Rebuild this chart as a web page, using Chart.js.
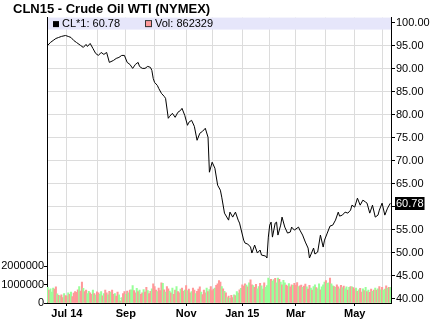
<!DOCTYPE html>
<html><head><meta charset="utf-8">
<script src="https://cdn.jsdelivr.net/npm/chart.js@4.4.1/dist/chart.umd.min.js"></script>
<style>html,body{margin:0;padding:0;background:#fff;}canvas{display:block;}</style>
</head><body>
<canvas id="c" width="434" height="327"></canvas>
<script>
// ---- data ----
const chartTitle = 'CLN15 - Crude Oil WTI (NYMEX)';
const seriesName = 'CL*1';
const lastPrice = 60.78;
const lastVolume = 862329;
const firstDay = '2014-06-11';
const lastDay = '2015-06-09';
const holidays = ['2014-07-04','2014-09-01','2014-11-27','2014-12-25','2015-01-01','2015-01-19','2015-02-16','2015-04-03','2015-05-25'];
const monthKeys = ['2014-07','2014-08','2014-09','2014-10','2014-11','2014-12','2015-01','2015-02','2015-03','2015-04','2015-05','2015-06'];
const monthTickLabels = ['Jul 14','','Sep','','Nov','','Jan 15','','Mar','','May',''];
const priceTicks = [40,45,50,55,60,65,70,75,80,85,90,95,100];
const volTicks = [0,1000,2000];
const volTickLabels = ['0','1000000','2000000'];

// trading-day index of each price reading, and the close
const priceIdx = [0,2,4,6,8,10,13,15,17,19,21,24,26,28,29,31,33,35,37,39,41,43,45,48,50,52,54,56,58,60,62,64,66,67,69,71,73,75,76,77,78,80,81,83,85,86,88,89,91,93,95,97,98,100,102,103,105,107,109,111,113,115,117,118,120,122,124,126,127,129,132,133,135,137,139,140,143,144,146,148,149,151,153,155,156,159,160,161,162,163,164,166,167,168,170,171,173,175,177,178,180,183,184,186,188,190,191,194,195,197,199,201,202,204,206,208,210,212,213,215,217,219,221,222,224,226,228,230,232,233,235,237,239,241,242,244,246,248,250];
const priceVals = [95.02,95.67,96.10,96.53,96.75,96.97,97.18,96.97,96.75,96.10,95.67,95.02,94.59,95.24,94.80,95.45,94.37,93.29,92.85,93.50,93.07,93.50,91.34,91.77,92.20,92.42,92.85,92.85,91.34,90.90,90.04,90.90,91.34,90.47,90.04,90.04,90.47,90.25,89.60,87.87,87.00,86.35,85.71,84.62,83.97,83.54,79.21,79.64,80.29,79.42,80.51,80.94,81.37,79.86,77.69,78.34,78.77,77.47,74.44,75.96,76.39,77.04,75.09,67.51,69.68,68.38,64.70,63.61,62.10,58.63,57.11,58.85,57.77,58.85,57.11,56.47,52.78,52.13,51.92,51.27,49.97,51.70,49.97,50.62,49.53,49.32,48.89,53.43,56.03,56.68,53.43,56.47,56.68,53.87,56.03,57.77,55.60,54.30,54.52,55.60,54.95,55.60,54.95,53.87,52.35,51.05,48.89,51.05,49.75,50.19,53.87,51.27,52.78,54.30,55.82,56.03,57.11,58.85,57.98,58.20,58.85,58.63,59.28,60.36,59.93,61.88,60.36,61.45,61.02,60.80,58.63,60.36,57.77,58.20,59.28,60.80,58.20,59.72,60.78];

// daily volume, thousands of contracts
const volK = [
850,700,780,600,820,760,880,500,
420,380,450,300,520,410,380,560,470,600,350,540,620,
580,720,900,650,1150,800,620,700,520,640,
560,480,700,520,430,610,550,480,620,390,520,700,560,450,640,
580,700,480,520,380,600,450,120,300,520,620,480,650,560,700,
720,950,680,560,800,620,700,480,560,740,600,850,680,520,640,780,1050,900,700,620,
820,680,1100,1080,720,600,900,780,650,560,820,480,700,900,620,560,760,820,640,700,
950,680,760,560,620,820,700,520,640,760,880,600,460,700,560,820,620,740,900,680,
760,820,960,1050,1220,1150,900,780,640,560,300,380,250,420,300,450,400,620,540,720,800,
1000,920,1050,980,880,1100,1270,1000,950,860,1020,780,900,1080,940,760,1100,860,950,
1360,1250,1300,1200,1280,1350,1100,1360,1300,1150,1000,1240,1100,980,920,1060,880,1000,960,1080,
960,1120,900,940,980,860,920,1040,880,760,960,820,700,900,1000,840,780,1050,720,880,
1000,1150,1220,1080,1100,1360,1050,940,900,860,1000,880,780,960,840,920,780,880,700,860,
900,880,840,760,820,640,720,800,600,780,680,860,620,700,580,760,640,700,820,700,
780,900,720,860,700,760,940,820,860,862];
// day direction: g = up, r = down
const volDir =
'grgggrrgrg'+'rrgrrgrgrr'+'rrrgrrgrrg'+'grrgrgrrgg'+'rgrrgrgrrg'+'rrgrgrrgrg'+
'rggrrgrgrr'+'grrgrrgrrr'+'grrrgrgrrg'+'rgrrgrrgrr'+'grgrrgrrgr'+'rrgrrrgrgr'+
'rrgrrrrgrg'+'rgrgrrgrgg'+'rgrrrgrgrr'+'grrggrggrg'+'gggrggrggr'+'grggrrgrrg'+
'rrrgrrgrrg'+'rrgrggrggr'+'gggrggrggr'+'grrgrgrggr'+'grgrrgrgrr'+'grgrgrrgrg'+'rgrgrggrgrg';

// ---- build ----
const tradingDays = [];
for (let d = new Date(firstDay + 'T00:00:00Z'); d <= new Date(lastDay + 'T00:00:00Z'); d.setUTCDate(d.getUTCDate() + 1)) {
  const wd = d.getUTCDay(); const s = d.toISOString().slice(0, 10);
  if (wd === 0 || wd === 6 || holidays.includes(s)) continue;
  tradingDays.push(s);
}
const monthStarts = monthKeys.map(k => tradingDays.findIndex(s => s.startsWith(k)));
const priceSeries = tradingDays.map(() => null);
priceIdx.forEach((i, k) => { priceSeries[i] = priceVals[k]; });
const volSeries = tradingDays.map((_, i) => volK[i]);
const RED = '#ff9999', GREEN = '#99ff99';
const volColors = tradingDays.map((_, i) => volDir[i] === 'g' ? GREEN : RED);

const FONT = 'Liberation Sans, Arial, sans-serif';
const GRID = '#dcdcdc';

const overlay = {
  id: 'overlay',
  beforeDatasetsDraw(chart) {
    const { ctx, chartArea: ca } = chart;
    ctx.save();
    ctx.fillStyle = '#e6e6fa';
    ctx.fillRect(ca.left + 1, ca.top, ca.width - 1, 12);
    ctx.font = '11px ' + FONT;
    ctx.textBaseline = 'middle';
    const ty = ca.top + 6.5;
    ctx.fillStyle = '#000';
    ctx.fillRect(53, ty - 3, 6, 6);
    ctx.fillText(seriesName + ': ' + lastPrice.toFixed(2), 62, ty);
    ctx.fillStyle = RED;
    ctx.fillRect(145.5, ty - 3, 6, 6);
    ctx.strokeStyle = '#333'; ctx.lineWidth = 1;
    ctx.strokeRect(145.5, ty - 3.5, 6, 6);
    ctx.fillStyle = '#000';
    ctx.fillText('Vol: ' + lastVolume, 155, ty);
    ctx.restore();
  },
  afterDraw(chart) {
    const { ctx, chartArea: ca } = chart;
    ctx.save();
    // title
    ctx.fillStyle = '#000';
    ctx.font = 'bold 13px ' + FONT;
    ctx.textBaseline = 'middle';
    ctx.fillText(chartTitle, 13, 9.8);
    // last-price marker
    const y = chart.scales.yPrice.getPixelForValue(lastPrice);
    ctx.font = '11px ' + FONT;
    const txt = lastPrice.toFixed(2);
    const w = ctx.measureText(txt).width + 2;
    ctx.fillRect(ca.right + 4, Math.round(y) - 6, w, 13);
    ctx.fillStyle = '#fff';
    ctx.fillText(txt, ca.right + 5, Math.round(y) + 0.5);
    ctx.restore();
  }
};

new Chart(document.getElementById('c'), {
  type: 'bar',
  data: {
    labels: tradingDays,
    datasets: [
      { type: 'line', label: seriesName, data: priceSeries, yAxisID: 'yPrice', borderColor: '#000', borderWidth: 1,
        pointRadius: 0, spanGaps: true, tension: 0, order: 0 },
      { type: 'bar', label: 'Vol', data: volSeries, yAxisID: 'yVol', backgroundColor: volColors, borderWidth: 0,
        barPercentage: 1.0, categoryPercentage: 1.0, order: 1 }
    ]
  },
  options: {
    responsive: false, animation: false, devicePixelRatio: 1,
    layout: { padding: { left: 0, right: 0, top: 17.6, bottom: 0 } },
    plugins: { legend: { display: false }, tooltip: { enabled: false }, title: { display: false } },
    scales: {
      x: {
        type: 'category', offset: true,
        grid: { offset: false, color: GRID, tickLength: 3,
          tickColor: c => (monthTickLabels[c.index] ? '#000' : 'rgba(0,0,0,0)') },
        border: { display: true, color: '#000' },
        ticks: { autoSkip: false, maxRotation: 0, color: '#000', padding: 1,
          font: { family: FONT, size: 11, weight: 'bold' },
          callback: (v, i) => monthTickLabels[i] },
        afterBuildTicks: s => { s.ticks = monthStarts.map(v => ({ value: v })); },
        afterFit: s => { s.height = 24; }
      },
      yVol: {
        type: 'linear', position: 'left', min: 0, max: 15600,
        grid: { drawOnChartArea: false, tickLength: 3, tickColor: '#000' },
        border: { display: true, color: '#000' },
        ticks: { color: '#000', padding: 0, font: { family: FONT, size: 11 },
          callback: (v, i) => volTickLabels[i] },
        afterBuildTicks: s => { s.ticks = volTicks.map(v => ({ value: v })); },
        afterFit: s => { s.width = 47; }
      },
      yPrice: {
        type: 'linear', position: 'right', min: 39.13, max: 101.06,
        grid: { color: GRID, tickLength: 4, tickColor: '#000' },
        border: { display: true, color: '#000' },
        ticks: { color: '#000', padding: 1, font: { family: FONT, size: 11 },
          callback: v => (v === 60 ? '' : v.toFixed(2)) },
        afterBuildTicks: s => { s.ticks = priceTicks.map(v => ({ value: v })); },
        afterFit: s => { s.width = 43; }
      }
    }
  },
  plugins: [overlay]
});
</script>
</body></html>
